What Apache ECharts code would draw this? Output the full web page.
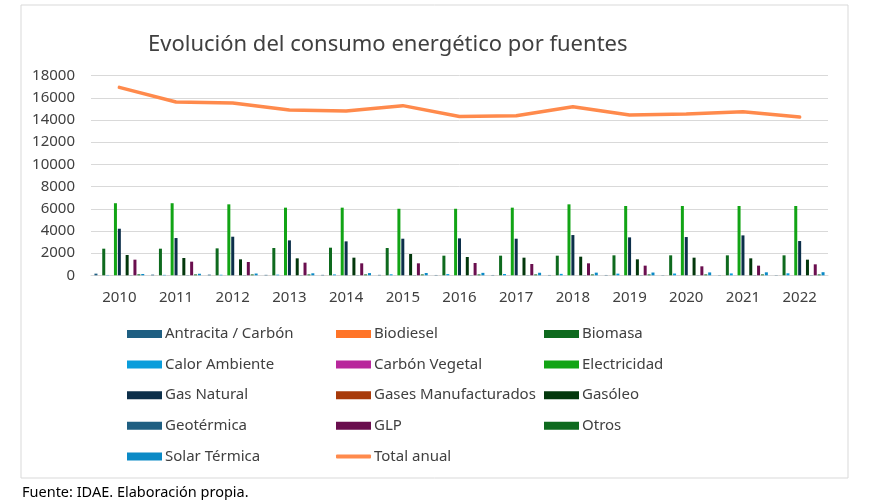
<!DOCTYPE html>
<html>
<head>
<meta charset="utf-8">
<script src="https://cdn.jsdelivr.net/npm/echarts@6/dist/echarts.min.js"></script>
<style>html,body{margin:0;padding:0;background:#fff;}#c{width:875px;height:500px;}</style>
</head>
<body>
<div id="c"></div>
<script>
const years = ['2010','2011','2012','2013','2014','2015','2016','2017','2018','2019','2020','2021','2022'];
const yTicks = [0,2000,4000,6000,8000,10000,12000,14000,16000,18000];
const antracita = [150,60,60,40,40,40,30,30,30,30,20,20,20];
const biodiesel = [5,5,5,5,5,5,5,5,5,5,5,5,5];
const biomasa = [2400,2400,2430,2460,2490,2460,1770,1770,1770,1800,1800,1800,1800];
const calorAmbiente = [30,40,50,60,80,90,110,120,130,150,160,170,180];
const carbonVegetal = [5,5,5,5,5,5,5,5,5,5,5,5,5];
const electricidad = [6500,6500,6400,6100,6100,6000,6000,6100,6400,6250,6250,6250,6250];
const gasNatural = [4200,3360,3480,3150,3060,3300,3330,3300,3630,3420,3450,3600,3090];
const gasesManuf = [3,3,3,3,3,3,3,3,3,3,3,3,3];
const gasoleo = [1830,1560,1440,1530,1590,1920,1650,1590,1680,1440,1590,1530,1410];
const geotermica = [20,20,20,20,20,20,20,20,20,20,20,20,20];
const glp = [1410,1230,1200,1140,1080,1080,1110,1020,1080,870,810,870,990];
const otros = [90,80,80,80,80,80,80,80,80,80,80,80,80];
const solarTermica = [120,140,160,180,200,210,220,230,240,250,260,270,280];
const totalAnual = [16950,15630,15540,14900,14820,15300,14320,14390,15200,14450,14540,14750,14270];

const barDefs = [
  ['Antracita / Carbón', antracita, '#1F5F82'],
  ['Biodiesel', biodiesel, '#FF7427'],
  ['Biomasa', biomasa, '#0E6A1E'],
  ['Calor Ambiente', calorAmbiente, '#0A9DDB'],
  ['Carbón Vegetal', carbonVegetal, '#B8279C'],
  ['Electricidad', electricidad, '#12A415'],
  ['Gas Natural', gasNatural, '#0C2F4A'],
  ['Gases Manufacturados', gasesManuf, '#A83A0A'],
  ['Gasóleo', gasoleo, '#03380C'],
  ['Geotérmica', geotermica, '#1F5F82'],
  ['GLP', glp, '#6A0E4E'],
  ['Otros', otros, '#0E6A1E'],
  ['Solar Térmica', solarTermica, '#0B8AC6']
];
const lineColor = '#FF8A4C';
const txt = '#404040';
const font = 'Noto Sans';

const series = barDefs.map(d => ({
  name: d[0], type: 'bar', data: d[1], barWidth: 3, barGap: '30%',
  itemStyle: { color: d[2] }
}));
series.push({
  name: 'Total anual', type: 'line', data: totalAnual, symbol: 'none',
  lineStyle: { color: lineColor, width: 3.5, cap: 'round', join: 'round' },
  itemStyle: { color: lineColor }
});

const rect = n => ({ name: n, icon: 'rect' });
const legendCommon = {
  orient: 'vertical', top: 326, padding: 0, itemWidth: 35, itemHeight: 8, itemGap: 14.6,
  textStyle: { color: txt, fontSize: 15, fontFamily: font, lineHeight: 16, padding: [0,0,0,-2] }
};
const chart = echarts.init(document.getElementById('c'));
chart.setOption({
  animation: false,
  title: {
    text: 'Evolución del consumo energético por fuentes', left: 143, top: 29,
    textStyle: { color: txt, fontSize: 22, fontWeight: 'normal', fontFamily: font }
  },
  grid: { left: 91, right: 47, top: 75.7, bottom: 224.7, containLabel: false },
  xAxis: {
    type: 'category', data: years,
    axisLine: { lineStyle: { color: '#d9d9d9' } }, axisTick: { show: false },
    axisLabel: { color: txt, fontSize: 15, fontFamily: font, margin: 15 }
  },
  yAxis: {
    type: 'value', min: yTicks[0], max: yTicks[yTicks.length-1], interval: 2000,
    axisLine: { show: false }, axisTick: { show: false },
    splitLine: { lineStyle: { color: '#d9d9d9', width: 1 } },
    axisLabel: { color: txt, fontSize: 15, fontFamily: font, margin: 16, formatter: v => String(v) }
  },
  legend: [
    Object.assign({}, legendCommon, { left: 127, data: ['Antracita / Carbón','Calor Ambiente','Gas Natural','Geotérmica','Solar Térmica'].map(rect) }),
    Object.assign({}, legendCommon, { left: 336, data: ['Biodiesel','Carbón Vegetal','Gases Manufacturados','GLP'].map(rect) }),
    Object.assign({}, legendCommon, { left: 544, data: ['Biomasa','Electricidad','Gasóleo','Otros'].map(rect) }),
    Object.assign({}, legendCommon, { left: 336, top: 448.4, itemHeight: 4, data: [{ name: 'Total anual', icon: 'roundRect' }] })
  ],
  graphic: [
    { type: 'rect', shape: { x: 21, y: 5, width: 827, height: 473 }, style: { fill: 'none', stroke: '#d9d9d9', lineWidth: 1 }, silent: true },
    { type: 'text', left: 22, top: 485, style: { text: 'Fuente: IDAE. Elaboración propia.', fill: '#000', fontSize: 14.5, fontFamily: font } }
  ],
  series: series
});
</script>
</body>
</html>
